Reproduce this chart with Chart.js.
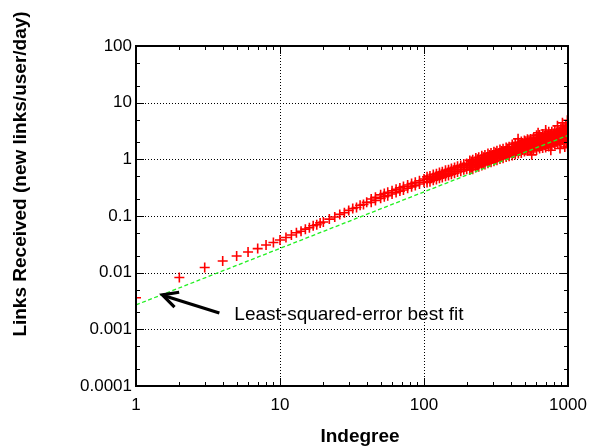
<!DOCTYPE html>
<html><head><meta charset="utf-8">
<script src="https://cdn.jsdelivr.net/npm/chart.js@4.4.0/dist/chart.umd.min.js"></script>
<style>html,body{margin:0;padding:0;background:#fff;}#wrap{width:603px;height:447px;}</style>
</head><body><div id="wrap"><canvas id="c" width="603" height="447"></canvas></div>
<script>
// ---- data ----
const indegree = [
  1,2,3,4,5,6,7,8,9,10,11,12,13,14,15,16,17,18,19,20,
  22,24,26,28,30,32,34,36,38,40,
  43,43,46,46,50,50,53,53,56,56,60,60,64,64,68,68,72,72,77,77,82,82,87,87,93,93,100,100,
  105,105,105,110,110,110,116,116,116,122,122,122,128,128,128,134,134,134,141,141,141,
  148,148,148,155,155,155,163,163,163,171,171,171,180,180,180,189,189,189,198,198,198,
  208,208,208,208,218,218,218,218,229,229,229,229,240,240,240,240,252,252,252,252,
  265,265,265,265,278,278,278,278,292,292,292,292,306,306,306,306,321,321,321,321,
  337,337,337,337,354,354,354,354,372,372,372,372,390,390,390,390,
  410,410,410,410,410,430,430,430,430,430,452,452,452,452,452,474,474,474,474,474,
  498,498,498,498,498,523,523,523,523,523,549,549,549,549,549,576,576,576,576,576,
  605,605,605,605,605,635,635,635,635,635,667,667,667,667,667,700,700,700,700,700,
  735,735,735,735,735,772,772,772,772,772,810,810,810,810,810,850,850,850,850,850,
  893,893,893,893,893,937,937,937,937,937,980,980,980,980,980,1000,1000,1000,1000,1000,
  213,213,213,235,235,235,258,258,258,285,285,285,314,314,314,345,345,345,
  381,381,381,420,420,420,463,463,463,486,486,486,
  510,510,510,510,536,536,536,536,562,562,562,562,590,590,590,590,620,620,620,620,
  651,651,651,651,683,683,683,683,717,717,717,717,753,753,753,753,791,791,791,791,
  830,830,830,830,871,871,871,871,915,915,915,915,958,958,958,958,990,990,990,990,
  450,560,620,700,760,845,880,915,950,965,980,990,995,1000
];
const linksReceived = [
  0.0036,0.0082,0.0123,0.0161,0.0197,0.0232,0.0266,0.0308,0.0340,0.0377,0.0418,0.0463,0.0505,0.0538,0.0586,0.0619,0.0671,0.0702,0.0755,0.0786,
  0.0882,0.0958,0.1068,0.1141,0.1255,0.1360,0.1410,0.1550,0.1600,0.1740,
  0.199,0.174,0.214,0.188,0.236,0.205,0.249,0.218,0.262,0.228,0.279,0.245,0.297,0.259,0.313,0.275,0.331,0.288,0.353,0.308,0.373,0.327,0.395,0.344,0.420,0.367,0.450,0.393,
  0.491,0.440,0.390,0.507,0.461,0.404,0.540,0.476,0.428,0.555,0.505,0.442,0.584,0.519,0.464,0.602,0.547,0.477,0.641,0.565,0.505,
  0.657,0.598,0.521,0.690,0.614,0.548,0.715,0.650,0.567,0.758,0.669,0.597,0.779,0.709,0.617,0.820,0.730,0.652,0.847,0.770,0.671,
  0.958,0.838,0.727,0.647,0.984,0.867,0.767,0.671,1.056,0.916,0.794,0.715,1.084,0.948,0.829,0.738,1.154,1.001,0.868,0.782,
  1.189,1.039,0.909,0.809,1.263,1.096,0.950,0.856,1.300,1.136,0.994,0.885,1.367,1.196,1.036,0.922,1.411,1.233,1.079,0.960,
  1.494,1.296,1.124,1.012,1.531,1.338,1.171,1.042,1.623,1.409,1.221,1.100,1.661,1.452,1.270,1.131,
  1.820,1.601,1.456,1.310,1.165,1.930,1.667,1.515,1.364,1.212,1.975,1.738,1.580,1.422,1.264,2.055,1.809,1.644,1.480,1.290,
  2.142,1.885,1.714,1.542,1.371,2.260,1.953,1.775,1.598,1.420,2.296,2.020,1.837,1.653,1.440,2.375,2.090,1.900,1.710,1.520,
  2.655,2.203,1.987,1.731,1.455,2.686,2.279,2.014,1.791,1.546,2.802,2.360,2.128,1.854,1.580,2.876,2.440,2.157,1.917,1.612,
  3.067,2.525,2.277,1.984,1.691,3.082,2.615,2.311,2.054,1.728,3.284,2.705,2.439,2.125,1.835,3.298,2.798,2.473,2.199,1.874,
  3.517,2.896,2.612,2.276,1.913,3.530,2.995,2.648,2.353,2.006,3.754,3.092,2.788,2.429,2.043,3.800,3.140,2.800,2.460,2.100,
  0.914,0.808,0.710,1.001,0.885,0.778,1.092,0.965,0.848,1.196,1.057,0.929,1.304,1.152,1.013,1.410,1.246,1.095,
  1.533,1.355,1.191,1.663,1.470,1.292,1.804,1.595,1.402,1.880,1.662,1.461,
  2.093,1.849,1.639,1.448,2.167,1.914,1.698,1.499,2.241,1.979,1.755,1.550,2.318,2.048,1.816,1.604,2.401,2.121,1.881,1.661,
  2.484,2.194,1.946,1.718,2.570,2.270,2.013,1.777,2.659,2.349,2.083,1.839,2.753,2.431,2.156,1.904,2.850,2.517,2.232,1.971,
  2.949,2.605,2.310,2.040,3.050,2.694,2.389,2.109,3.158,2.789,2.474,2.184,3.261,2.880,2.554,2.255,3.337,2.948,2.614,2.308,
  2.30,1.20,2.95,3.30,1.45,3.90,1.55,4.40,1.65,4.00,3.40,4.90,1.70,1.60
];
// least-squared-error best fit line (end points)
const fitIndegree = [1, 1000];
const fitLinks = [0.0027, 2.65];
// axis ticks
const xTickValues = [1, 10, 100, 1000];
const xTickLabels = ['1', '10', '100', '1000'];
const yTickValues = [0.0001, 0.001, 0.01, 0.1, 1, 10, 100];
const yTickLabels = ['0.0001', '0.001', '0.01', '0.1', '1', '10', '100'];
const xMinorSteps = [2, 3, 4, 5, 6, 7, 8, 9];
const yMinorSteps = [2, 5];
const xTitle = 'Indegree';
const yTitle = 'Links Received (new links/user/day)';
const annotationText = 'Least-squared-error best fit';
const annotationTarget = [1.5, 0.00405];

const FONT = "'Liberation Sans', Arial, Helvetica, sans-serif";
Chart.defaults.font.family = FONT;
Chart.defaults.color = '#000';

function labelFor(values, labels) {
  return function (value) {
    const lv = Math.log10(value);
    for (let i = 0; i < values.length; i++) {
      if (Math.abs(Math.log10(values[i]) - lv) < 1e-6) return labels[i];
    }
    return null;
  };
}

const framePlugin = {
  id: 'frame',
  beforeDatasetsDraw(chart) {
    const { ctx, chartArea: a, scales: { x, y } } = chart;
    ctx.save();
    ctx.strokeStyle = '#000';
    ctx.lineWidth = 1;
    ctx.setLineDash([1, 2]);
    xTickValues.forEach(v => {
      const px = Math.round(x.getPixelForValue(v)) + 0.5;
      if (px < a.left + 2 || px > a.right - 2) return;
      ctx.beginPath(); ctx.moveTo(px, a.top); ctx.lineTo(px, a.bottom); ctx.stroke();
    });
    yTickValues.forEach(v => {
      const py = Math.round(y.getPixelForValue(v)) + 0.5;
      if (py < a.top + 2 || py > a.bottom - 2) return;
      ctx.beginPath(); ctx.moveTo(a.left, py); ctx.lineTo(a.right, py); ctx.stroke();
    });
    ctx.restore();
  },
  afterDatasetsDraw(chart) {
    const { ctx, chartArea: a, scales: { x, y } } = chart;
    ctx.save();
    ctx.strokeStyle = '#000';
    ctx.setLineDash([]);
    ctx.lineWidth = 1;
    const major = 8, minor = 4;
    const vtick = (px, len) => {
      px = Math.round(px) + 0.5;
      ctx.beginPath();
      ctx.moveTo(px, a.bottom); ctx.lineTo(px, a.bottom - len);
      ctx.moveTo(px, a.top); ctx.lineTo(px, a.top + len);
      ctx.stroke();
    };
    const htick = (py, len) => {
      py = Math.round(py) + 0.5;
      ctx.beginPath();
      ctx.moveTo(a.left, py); ctx.lineTo(a.left + len, py);
      ctx.moveTo(a.right, py); ctx.lineTo(a.right - len, py);
      ctx.stroke();
    };
    xTickValues.forEach((v, i) => {
      vtick(x.getPixelForValue(v), major);
      if (i < xTickValues.length - 1) xMinorSteps.forEach(m => vtick(x.getPixelForValue(v * m), minor));
    });
    yTickValues.forEach((v, i) => {
      htick(y.getPixelForValue(v), major);
      if (i < yTickValues.length - 1) yMinorSteps.forEach(m => htick(y.getPixelForValue(v * m), minor));
    });
    ctx.lineWidth = 2;
    ctx.strokeRect(a.left, a.top, a.right - a.left, a.bottom - a.top);

    // annotation arrow
    const tx = x.getPixelForValue(annotationTarget[0]);
    const ty = y.getPixelForValue(annotationTarget[1]);
    const ex = tx + 58, ey = ty + 18;
    const ang = Math.atan2(ey - ty, ex - tx);
    ctx.lineWidth = 3.2;
    ctx.lineCap = 'butt';
    ctx.beginPath(); ctx.moveTo(tx + 3 * Math.cos(ang), ty + 3 * Math.sin(ang)); ctx.lineTo(ex, ey); ctx.stroke();
    const hl = 18, hw = 0.45;
    ctx.lineJoin = 'miter';
    ctx.beginPath();
    ctx.moveTo(tx + hl * Math.cos(ang - hw), ty + hl * Math.sin(ang - hw));
    ctx.lineTo(tx + 1, ty);
    ctx.lineTo(tx + hl * Math.cos(ang + hw), ty + hl * Math.sin(ang + hw));
    ctx.stroke();
    ctx.fillStyle = '#000';
    ctx.font = "19px " + FONT;
    ctx.textAlign = 'left';
    ctx.textBaseline = 'alphabetic';
    ctx.fillText(annotationText, ex + 15, ey + 7);

    ctx.font = "bold 19px " + FONT;
    ctx.textAlign = 'center';
    ctx.fillText(xTitle, (a.left + a.right) / 2 + 8, 442);
    ctx.translate(26, 174);
    ctx.rotate(-Math.PI / 2);
    ctx.fillText(yTitle, 0, 0);
    ctx.restore();
  }
};

const points = indegree.map((v, i) => ({ x: v, y: linksReceived[i] }));
const fitPoints = fitIndegree.map((v, i) => ({ x: v, y: fitLinks[i] }));

new Chart(document.getElementById('c'), {
  type: 'scatter',
  data: {
    datasets: [
      {
        type: 'line', label: 'fit', data: fitPoints, order: 0,
        borderColor: '#22f022', borderWidth: 1.3, borderDash: [4, 2.5],
        pointRadius: 0, fill: false, showLine: true
      },
      {
        label: 'data', data: points, order: 1,
        pointStyle: 'cross', pointRadius: 5, pointBorderWidth: 1.6,
        borderColor: '#ff0000', backgroundColor: '#ff0000', pointBorderColor: '#ff0000'
      }
    ]
  },
  options: {
    responsive: false,
    animation: false,
    devicePixelRatio: 1,
    events: [],
    layout: { padding: { top: 46, right: 35, left: 0, bottom: 0 } },
    plugins: { legend: { display: false }, tooltip: { enabled: false } },
    scales: {
      x: {
        type: 'logarithmic', position: 'bottom', min: 1, max: 1000,
        grid: { display: false, drawTicks: false }, border: { display: false },
        ticks: { autoSkip: false, maxRotation: 0, minRotation: 0, padding: 9, font: { size: 17 }, color: '#000',
                 callback: labelFor(xTickValues, xTickLabels) },
        afterFit(s) { s.height = 61; }
      },
      y: {
        type: 'logarithmic', position: 'left', min: 0.0001, max: 100,
        grid: { display: false, drawTicks: false }, border: { display: false },
        ticks: { autoSkip: false, padding: 4, font: { size: 17 }, color: '#000',
                 callback: labelFor(yTickValues, yTickLabels) },
        afterFit(s) { s.width = 136; }
      }
    }
  },
  plugins: [framePlugin]
});
</script>
</body></html>
